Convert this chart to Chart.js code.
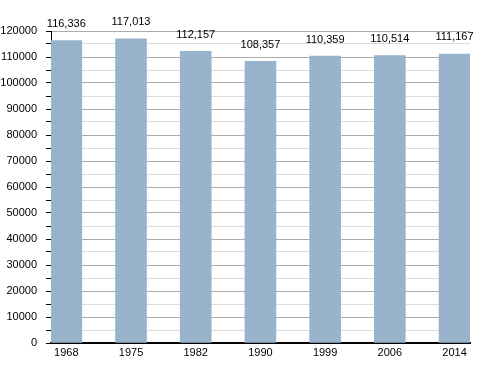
<!DOCTYPE html>
<html><head><meta charset="utf-8">
<script src="https://cdn.jsdelivr.net/npm/chart.js@4/dist/chart.umd.min.js"></script>
<style>html,body{margin:0;padding:0;background:#fff}#wrap{width:500px;height:373px}</style>
</head><body><div id="wrap"><canvas id="c"></canvas></div>
<script>
const categories = ['1968','1975','1982','1990','1999','2006','2014'];
const population = [116336,117013,112157,108357,110359,110514,111167];
const yTicks = [0,10000,20000,30000,40000,50000,60000,70000,80000,90000,100000,110000,120000];

const points = population.map((v,i)=>({x:i,y:v}));
const FONT = 'Liberation Sans, Arial, sans-serif';

const labelPlugin = {
  id:'vals',
  afterDatasetsDraw(chart){
    const ctx = chart.ctx;
    const meta = chart.getDatasetMeta(0);
    ctx.save();
    ctx.font = '11px ' + FONT;
    ctx.fillStyle = '#000';
    ctx.textAlign = 'center';
    ctx.textBaseline = 'bottom';
    meta.data.forEach((el,i)=>{
      ctx.fillText(population[i].toLocaleString('en-US'), el.x, el.y - 11);
    });
    ctx.restore();
  }
};

new Chart(document.getElementById('c'), {
  type:'bar',
  data:{ datasets:[{ data:points, backgroundColor:'#99b3cd', borderWidth:0, barThickness:31 }] },
  options:{
    responsive:true, maintainAspectRatio:false, animation:false,
    layout:{ padding:{ top:31, right:30, left:0, bottom:0 } },
    plugins:{ legend:{display:false}, tooltip:{enabled:false} },
    scales:{
      x:{
        type:'linear', min:-0.2365, max:6.239, offset:false,
        grid:{ display:false, drawTicks:false },
        border:{ color:'#000', width:2 },
        afterBuildTicks(s){ s.ticks = categories.map((c,i)=>({value:i})); },
        afterFit(s){ s.height = 30; },
        ticks:{ color:'#000', font:{family:FONT, size:11}, padding:3, maxRotation:0, autoSkip:false,
          callback:(v)=>categories[v] }
      },
      y:{
        min:0, max:120000,
        afterBuildTicks(s){
          const t=[]; for(let v=0; v<=120000; v+=5000) t.push({value:v}); s.ticks=t;
        },
        afterFit(s){ s.width = 51; },
        grid:{
          color:(c)=> (c.tick && c.tick.value % 10000 === 0) ? '#ababab' : '#dcdcdc',
          tickColor:'#000', tickLength:5, lineWidth:1
        },
        border:{ color:'#000', width:1 },
        ticks:{ color:'#000', font:{family:FONT, size:11}, padding:9, autoSkip:false,
          callback:(v)=> yTicks.includes(v) ? String(v) : '' }
      }
    }
  },
  plugins:[labelPlugin]
});
</script></body></html>
